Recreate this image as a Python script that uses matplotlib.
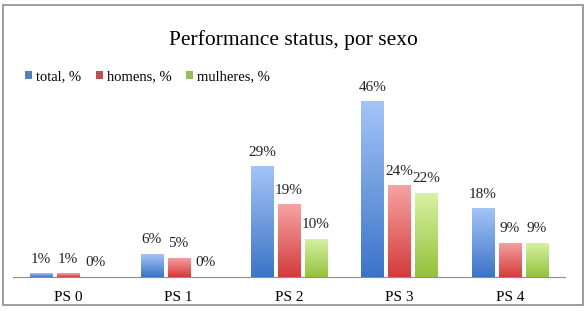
import matplotlib
matplotlib.use("Agg")
import matplotlib.pyplot as plt
import numpy as np
from matplotlib.colors import LinearSegmentedColormap
from matplotlib.patches import Rectangle

categories = ["PS 0", "PS 1", "PS 2", "PS 3", "PS 4"]
series_names = ["total, %", "homens, %", "mulheres, %"]
total = [1, 6, 29, 46, 18]
homens = [1, 5, 19, 24, 9]
mulheres = [0, 0, 10, 22, 9]
series = [total, homens, mulheres]

tops = ["#a4c4f7", "#f6a3a3", "#d8f2a4"]
bottoms = ["#3b74c7", "#d43b3b", "#93c23b"]
mids = ["#4f81bd", "#c0504d", "#9bbb59"]

plt.rcParams['font.family'] = ['Liberation Serif', 'DejaVu Serif']
W, H = 586, 311
fig = plt.figure(figsize=(W/100, H/100), dpi=100)
fig.patches.append(Rectangle((3/W, 6/H), 580/W, 300/H, transform=fig.transFigure,
                             fill=False, edgecolor="#8c8c8c", lw=1.2))
ax = fig.add_axes([13/W, (H-277)/H, 552/W, 191/H])
x = np.arange(len(categories))
width = 0.2
step = 0.245
grad = np.linspace(0, 1, 256).reshape(-1, 1)
for i, (vals, name) in enumerate(zip(series, series_names)):
    cmap = LinearSegmentedColormap.from_list(f"g{i}", [bottoms[i], tops[i]])
    pos = x + (i - 1) * step
    bars = ax.bar(pos, vals, width, color=mids[i], label=name, edgecolor="none", zorder=2)
    for b, v in zip(bars, vals):
        if v > 0:
            bx, by = b.get_x(), b.get_y()
            im = ax.imshow(grad, cmap=cmap, aspect="auto", origin="lower",
                           extent=[bx, bx + b.get_width(), by, by + b.get_height()], zorder=3)
            im.set_clip_path(b)
        ax.text(b.get_x() + b.get_width()/2, v + 2, f"{v}%", ha="center", va="bottom",
                fontsize=11, color="#222222", zorder=4)
ax.set_xlim(-0.5, 4.5)
ax.set_ylim(0, 50)
ax.set_xticks(x)
ax.set_xticklabels(categories, fontsize=11)
ax.tick_params(axis="x", length=0, pad=10)
ax.set_yticks([])
for s in ["top", "right", "left"]:
    ax.spines[s].set_visible(False)
ax.spines["bottom"].set_color("#8c8c8c")
fig.text(0.5, (H-40)/H, "Performance status, por sexo", ha="center", va="center", fontsize=15.5)
leg = fig.legend(loc="center left", bbox_to_anchor=(12/W, (H-77)/H), ncol=3, frameon=False,
                 fontsize=10.5, handlelength=0.5, handleheight=0.5, handletextpad=0.25,
                 columnspacing=1.0)
fig.savefig("out.png", dpi=100)
